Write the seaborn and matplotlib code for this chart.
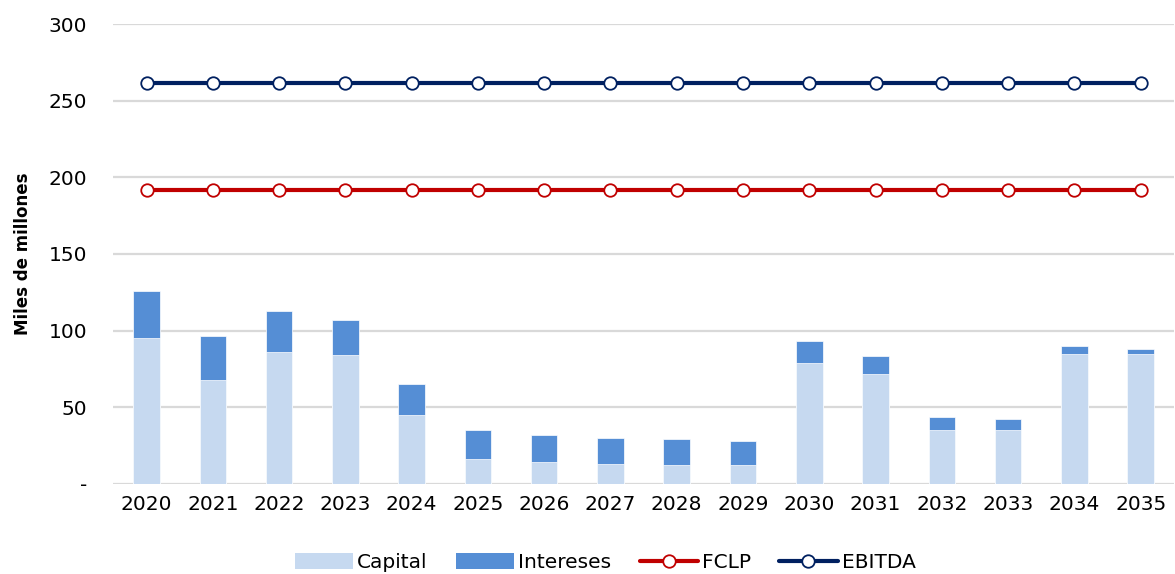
import numpy as np
import pandas as pd
import matplotlib
matplotlib.use("Agg")
import matplotlib.pyplot as plt
import seaborn as sns
from matplotlib.patches import Patch
from matplotlib.lines import Line2D

years = ["2020", "2021", "2022", "2023", "2024", "2025", "2026", "2027",
         "2028", "2029", "2030", "2031", "2032", "2033", "2034", "2035"]
capital = [95, 68, 86, 84, 45, 16, 14, 13, 12.6, 12.4, 79, 71.5, 35.2, 35.2, 85, 85]
intereses = [31, 28.5, 26.5, 23, 20, 19.2, 18, 17.2, 16.5, 15.6, 14.5, 11.8, 8.3, 7.2, 4.8, 3]
fclp = [192] * 16
ebitda = [261.5] * 16

c_cap = "#c6d9f0"
c_int = "#558ed5"
c_fclp = "#c00000"
c_ebitda = "#002060"

sns.set_theme(style="white")
plt.rcParams["font.family"] = ["DejaVu Sans"]

df = pd.DataFrame({"year": years, "capital": capital, "intereses": intereses})
df["total"] = df["capital"] + df["intereses"]

fig = plt.figure(figsize=(11.75, 5.74), dpi=100)
ax = fig.add_axes([0.0965, 0.157, 0.9025, 0.801])

ax.set_axisbelow(True)
ax.yaxis.grid(True, color="#d9d9d9", linewidth=1.6)

sns.barplot(data=df, x="year", y="total", color=c_int, saturation=1, width=0.4,
            edgecolor="#ffffff", linewidth=0.5, ax=ax)
sns.barplot(data=df, x="year", y="capital", color=c_cap, saturation=1, width=0.4,
            edgecolor="#ffffff", linewidth=0.5, ax=ax)

xpos = np.arange(len(years))
for vals, col in [(fclp, c_fclp), (ebitda, c_ebitda)]:
    sns.lineplot(x=xpos, y=vals, color=col, linewidth=3, marker="o", markersize=9,
                 markerfacecolor="white", markeredgecolor=col, markeredgewidth=1.3, ax=ax)

ax.set_xlim(-0.5, len(years) - 0.5)
ax.set_ylim(0, 300)
ax.set_yticks([0, 50, 100, 150, 200, 250, 300])
ax.set_yticklabels(["-", "50", "100", "150", "200", "250", "300"])
ax.set_xticks(xpos)
ax.set_xticklabels(years)
ax.tick_params(axis="both", labelsize=14.5, colors="#000000", length=0)
ax.tick_params(axis="y", pad=19)
ax.tick_params(axis="x", pad=8)
ax.set_xlabel("")
ax.set_ylabel("Miles de millones", fontsize=12, fontweight="bold", color="#000000",
              labelpad=12)
for s in ax.spines.values():
    s.set_visible(False)

handles = [
    Patch(facecolor=c_cap, edgecolor="none"),
    Patch(facecolor=c_int, edgecolor="none"),
    Line2D([0], [0], color=c_fclp, linewidth=3, marker="o", markersize=9,
           markerfacecolor="white", markeredgecolor=c_fclp, markeredgewidth=1.3),
    Line2D([0], [0], color=c_ebitda, linewidth=3, marker="o", markersize=9,
           markerfacecolor="white", markeredgecolor=c_ebitda, markeredgewidth=1.3),
]
leg = fig.legend(handles, ["Capital", "Intereses", "FCLP", "EBITDA"], loc="center",
                 bbox_to_anchor=(0.515, 0.02), ncol=4, frameon=False, fontsize=14.5,
                 handlelength=2.9, handleheight=0.8, handletextpad=0.2, columnspacing=1.4)
for t in leg.get_texts():
    t.set_color("#000000")

fig.savefig("out.png", dpi=100)
